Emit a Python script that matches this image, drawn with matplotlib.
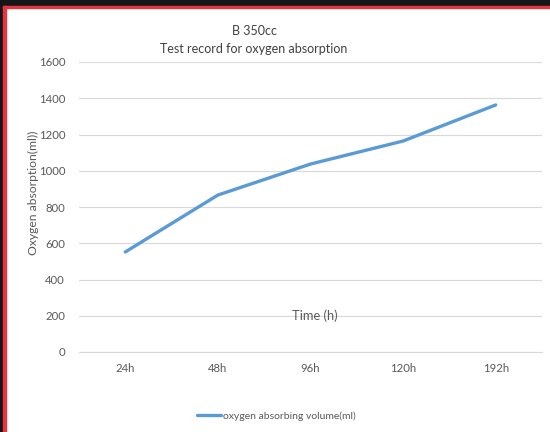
import matplotlib.pyplot as plt
from matplotlib.patches import Rectangle

# datos
times = ['24h', '48h', '96h', '120h', '192h']
oxygen = [552, 866, 1037, 1164, 1363]
yticks = [0, 200, 400, 600, 800, 1000, 1200, 1400, 1600]

W, H = 550, 432
fig = plt.figure(figsize=(W / 100, H / 100), dpi=100)
plt.rcParams['font.family'] = ['Lato', 'DejaVu Sans']

# bordes de la captura
fig.patches.append(Rectangle((0, 1 - 6 / H), 1, 6 / H, transform=fig.transFigure,
                             color='#141519', zorder=0))
fig.patches.append(Rectangle((0, 0), 3 / W, 1, transform=fig.transFigure,
                             color='#141519', zorder=0))
fig.patches.append(Rectangle((3 / W, 1 - 8 / H), 1 - 3 / W, 2 / H, transform=fig.transFigure,
                             color='#E8343C', zorder=1))
fig.patches.append(Rectangle((3 / W, 0), 3 / W, 1 - 6 / H, transform=fig.transFigure,
                             color='#E8343C', zorder=1))

# área del gráfico
left, right = 79, 542
top, bottom = 62, 352
ax = fig.add_axes([left / W, 1 - bottom / H, (right - left) / W, (bottom - top) / H])

txt = '#595959'
ax.plot(range(len(times)), oxygen, color='#5B9BD5', lw=2.4,
        solid_capstyle='round', label='oxygen absorbing volume(ml)')
ax.set_xlim(-0.5, len(times) - 0.5)
ax.set_ylim(0, 1600)
ax.set_yticks(yticks)
ax.set_xticks(range(len(times)))
ax.set_xticklabels(times)
ax.grid(axis='y', color='#D9D9D9', lw=0.8)
ax.set_axisbelow(True)
for s in ['top', 'right', 'left']:
    ax.spines[s].set_visible(False)
ax.spines['bottom'].set_color('#D9D9D9')
ax.tick_params(length=0, colors=txt, labelsize=8.2)
ax.tick_params(axis='y', pad=10)
ax.tick_params(axis='x', pad=8)

ax.set_ylabel('Oxygen absorption(ml))', color=txt, fontsize=8.7)
ax.yaxis.set_label_coords((39 - left) / (right - left), (bottom - 193) / (bottom - top))

ax.text((315 - left) / (right - left), 200, 'Time (h)', ha='center', va='center',
        color=txt, fontsize=9.3, transform=ax.get_yaxis_transform())

fig.text(254 / W, 1 - 31 / H, 'B 350cc', ha='center', va='center', color='#404040', fontsize=9)
fig.text(254 / W, 1 - 49 / H, 'Test record for oxygen absorption', ha='center', va='center',
         color='#404040', fontsize=9)

fig.legend(loc='center', bbox_to_anchor=(276 / W, 1 - 416 / H), frameon=False,
           fontsize=7.5, labelcolor=txt, handlelength=2.3, handletextpad=0.2)

fig.savefig('out.png', dpi=100)
